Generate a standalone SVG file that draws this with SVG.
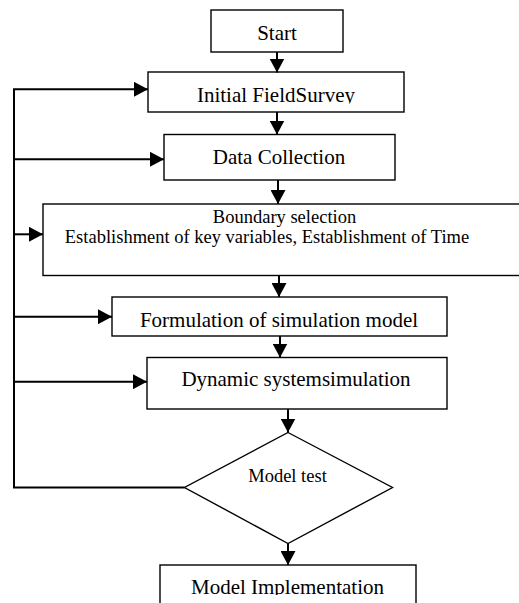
<svg xmlns="http://www.w3.org/2000/svg" width="519" height="603" viewBox="0 0 519 603">
<style>
.box{fill:#fff;stroke:#000;stroke-width:1.4}
.t{font-family:"Liberation Serif","Times New Roman",serif;font-size:21px;fill:#000;text-anchor:middle}
.s{font-size:18.5px}
.c{fill:none;stroke:#000;stroke-width:2}
</style>
<defs>
<marker id="ah" markerUnits="userSpaceOnUse" markerWidth="15" markerHeight="15" refX="14" refY="7.5" orient="auto">
<path d="M0,0 L14,7.5 L0,15 z" fill="#000"/>
</marker>
<clipPath id="clipInit"><rect x="148" y="72" width="256" height="31.5"/></clipPath>
<clipPath id="clipImpl"><rect x="160" y="565" width="256" height="30"/></clipPath>
</defs>
<rect width="519" height="603" fill="#fff"/>
<g id="start"><rect class="box" x="211" y="10" width="132" height="42"/><text class="t" x="277" y="40">Start</text></g>
<g id="survey"><rect class="box" x="148" y="72" width="256" height="40"/><text class="t" x="276" y="102" clip-path="url(#clipInit)">Initial FieldSurvey</text></g>
<g id="data"><rect class="box" x="164" y="134.5" width="231" height="45.5"/><text class="t" x="279" y="164">Data Collection</text></g>
<g id="boundary"><rect class="box" x="43" y="204" width="480" height="71.5"/><text class="t s" x="284.5" y="222.5">Boundary selection</text><text class="t s" x="267" y="242.5">Establishment of key variables, Establishment of Time</text></g>
<g id="formulation"><rect class="box" x="112" y="297" width="335" height="39"/><text class="t" x="279" y="327">Formulation of simulation model</text></g>
<g id="dynamic"><rect class="box" x="147" y="357.5" width="300" height="51.5"/><text class="t" x="296" y="386">Dynamic systemsimulation</text></g>
<g id="test"><polygon class="box" points="288,432.5 392.5,487.5 288,543.5 184.5,487.5"/><text class="t s" x="287.5" y="482">Model test</text></g>
<g id="implementation"><rect class="box" x="160" y="565" width="256" height="50"/><text class="t" x="287.5" y="594" clip-path="url(#clipImpl)">Model Implementation</text></g>
<g id="connectors">
<line class="c" x1="277" y1="52" x2="277" y2="72.5" marker-end="url(#ah)"/>
<line class="c" x1="277" y1="112" x2="277" y2="134.5" marker-end="url(#ah)"/>
<line class="c" x1="278" y1="180" x2="278" y2="204" marker-end="url(#ah)"/>
<line class="c" x1="279" y1="275.5" x2="279" y2="297" marker-end="url(#ah)"/>
<line class="c" x1="280" y1="336" x2="280" y2="357.5" marker-end="url(#ah)"/>
<line class="c" x1="288" y1="409" x2="288" y2="432.5" marker-end="url(#ah)"/>
<line class="c" x1="288" y1="543.5" x2="288" y2="565" marker-end="url(#ah)"/>
<polyline class="c" points="184.5,487.5 14,487.5 14,89"/>
<line class="c" x1="13" y1="89.3" x2="148" y2="89.3" marker-end="url(#ah)"/>
<line class="c" x1="14" y1="159.3" x2="164" y2="159.3" marker-end="url(#ah)"/>
<line class="c" x1="14" y1="234.3" x2="43" y2="234.3" marker-end="url(#ah)"/>
<line class="c" x1="14" y1="316.7" x2="112" y2="316.7" marker-end="url(#ah)"/>
<line class="c" x1="14" y1="381.7" x2="147" y2="381.7" marker-end="url(#ah)"/>
</g>
</svg>
